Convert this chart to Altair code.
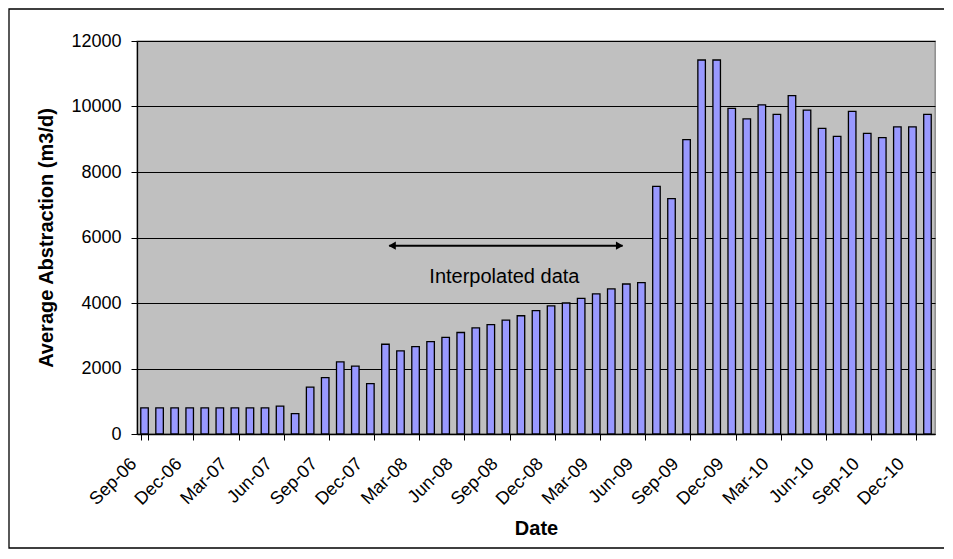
import altair as alt
import pandas as pd

months = [
    "Sep-06", "Oct-06", "Nov-06", "Dec-06", "Jan-07", "Feb-07", "Mar-07", "Apr-07", "May-07",
    "Jun-07", "Jul-07", "Aug-07", "Sep-07", "Oct-07", "Nov-07", "Dec-07", "Jan-08", "Feb-08",
    "Mar-08", "Apr-08", "May-08", "Jun-08", "Jul-08", "Aug-08", "Sep-08", "Oct-08", "Nov-08",
    "Dec-08", "Jan-09", "Feb-09", "Mar-09", "Apr-09", "May-09", "Jun-09", "Jul-09", "Aug-09",
    "Sep-09", "Oct-09", "Nov-09", "Dec-09", "Jan-10", "Feb-10", "Mar-10", "Apr-10", "May-10",
    "Jun-10", "Jul-10", "Aug-10", "Sep-10", "Oct-10", "Nov-10", "Dec-10", "Jan-11",
]
abstraction = [
    800, 800, 800, 800, 800, 800, 800, 800, 800,
    850, 620, 1430, 1720, 2200, 2070, 1540, 2740, 2540,
    2670, 2820, 2950, 3100, 3240, 3340, 3480, 3610, 3770,
    3910, 4000, 4140, 4280, 4430, 4580, 4620, 7560, 7190,
    8990, 11420, 11420, 9940, 9620, 10050, 9760, 10330, 9890,
    9330, 9090, 9850, 9180, 9050, 9380, 9380, 9760,
]
tick_months = months[0::3]
y_ticks = [0, 2000, 4000, 6000, 8000, 10000, 12000]

arrow_from = 16.75
arrow_to = 32.25
arrow_level = 5750
note_text = "Interpolated data"
note_pos = 24.4
note_level = 4800

FONT = "Liberation Sans"

df = pd.DataFrame({"month": months, "value": abstraction})

bars = alt.Chart(df).mark_bar(
    color="#9999FF", stroke="black", strokeWidth=1.3
).encode(
    x=alt.X(
        "month:O", sort=None,
        scale=alt.Scale(paddingInner=0.5, paddingOuter=0.25),
        axis=alt.Axis(
            title="Date", values=tick_months, labelAngle=315, labelAlign="right",
            labelBaseline="middle", tickBand="extent", labelPadding=21,
            labelOffset=-11, titlePadding=10,
        ),
    ),
    y=alt.Y(
        "value:Q",
        scale=alt.Scale(domain=[0, 12000], nice=False),
        axis=alt.Axis(
            title="Average Abstraction (m3/d)", values=y_ticks, format="d",
            titlePadding=14, labelPadding=10,
        ),
    ),
)

arrow_df = pd.DataFrame({"x1": [arrow_from], "x2": [arrow_to], "y": [arrow_level]})
xq = alt.Scale(domain=[0, len(months)], nice=False, zero=False)
yq = alt.Scale(domain=[0, 12000], nice=False)

rule = alt.Chart(arrow_df).mark_rule(color="black", strokeWidth=2).encode(
    x=alt.X("x1:Q", scale=xq, axis=None),
    x2="x2:Q",
    y=alt.Y("y:Q", scale=yq, axis=None),
)
heads_df = pd.DataFrame({
    "x": [arrow_from + 0.2, arrow_to - 0.2],
    "y": [arrow_level, arrow_level],
    "shape": ["triangle-left", "triangle-right"],
})
heads = alt.Chart(heads_df).mark_point(
    filled=True, color="black", size=70, opacity=1
).encode(
    x=alt.X("x:Q", scale=xq, axis=None),
    y=alt.Y("y:Q", scale=yq, axis=None),
    shape=alt.Shape("shape:N", scale=None, legend=None),
)
note = alt.Chart(pd.DataFrame({"x": [note_pos], "y": [note_level], "t": [note_text]})).mark_text(
    font=FONT, fontSize=20, color="black", align="center", baseline="middle"
).encode(
    x=alt.X("x:Q", scale=xq, axis=None),
    y=alt.Y("y:Q", scale=yq, axis=None),
    text="t:N",
)

border = alt.Chart(pd.DataFrame({"a": [0]})).mark_rect(
    fill=None, fillOpacity=0, stroke="black", strokeWidth=1.3, clip=False
).encode(
    x=alt.value(-128), x2=alt.value(808), y=alt.value(-32), y2=alt.value(507)
)

chart = alt.layer(bars, rule, heads, note, border).resolve_scale(
    x="independent", y="independent"
).resolve_axis(
    x="independent", y="independent"
).properties(
    width=798, height=393,
    autosize=alt.AutoSizeParams(type="none"),
    padding={"left": 129, "top": 33, "right": 9, "bottom": 116},
).configure_view(
    fill="#C0C0C0", stroke="#808080", strokeWidth=1.3
).configure_axis(
    labelFont=FONT, titleFont=FONT, labelFontSize=18, titleFontSize=20,
    labelColor="black", titleColor="black", titleFontWeight="bold",
    domainColor="black", tickColor="black", tickSize=6, gridColor="black",
    gridWidth=1, domainWidth=1.3, labelFlush=False, labelOverlap=False,
).configure_axisX(grid=False).configure_axisY(grid=True)

chart.save("out.html", embed_options={"renderer": "svg", "actions": False})
